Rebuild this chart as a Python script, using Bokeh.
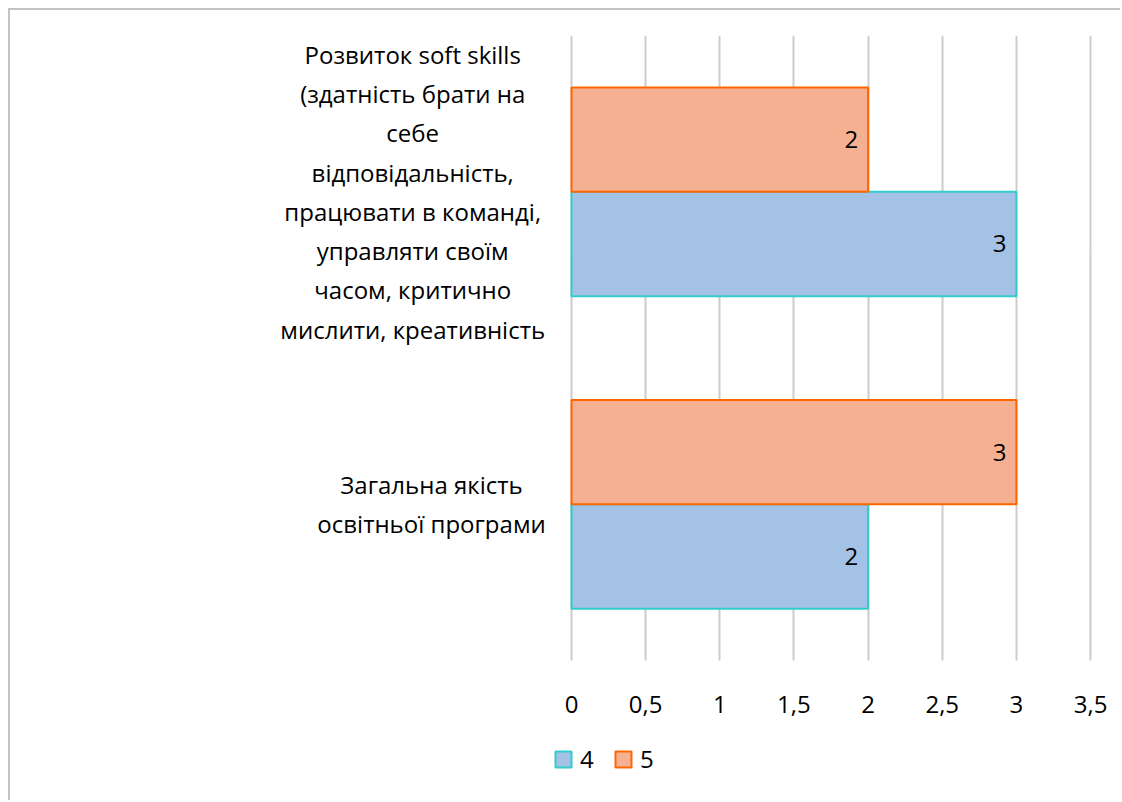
from bokeh.plotting import figure
from bokeh.models import (ColumnDataSource, Range1d, CustomJSTickFormatter,
                          Legend, LegendItem)
from bokeh.transform import dodge
from bokeh.core.properties import value
from bokeh.embed import file_html
from bokeh.resources import INLINE

# ---------------- data ----------------
categories = [
    "Загальна якість освітньої програми",
    "Розвиток soft skills (здатність брати на себе відповідальність, працювати в команді, управляти своїм часом, критично мислити, креативність",
]
category_labels = [
    "Загальна якість\nосвітньої програми",
    "Розвиток soft skills\n(здатність брати на\nсебе\nвідповідальність,\nпрацювати в команді,\nуправляти своїм\nчасом, критично\nмислити, креативність",
]
series_names = ["4", "5"]
values_4 = [2, 3]
values_5 = [3, 2]
x_ticks = [0, 0.5, 1, 1.5, 2, 2.5, 3, 3.5]

# ---------------- layout / style ----------------
FONT = "Open Sans"
FS = "24px"
ORIGIN = 10                      # page offset of the figure (margin + border)
W, H = 1112, 792
BL, BR, BT, BB = 200, 2, 25, 2
PX_PER_UNIT = 148.3              # x: pixels per value unit
PX_PER_CAT = 312.5               # y: pixels per category band
ZERO_PX = 571                    # page x of value 0
frame_w = W - BL - BR
frame_h = H - BT - BB
x_start = -(ZERO_PX - ORIGIN - BL) / PX_PER_UNIT
x_end = x_start + frame_w / PX_PER_UNIT
n_cat = len(categories)
y_top = n_cat - 0.5
y_bottom_cat = -0.5
y_start = y_top - frame_h / PX_PER_CAT

# category labels: block right edge fixed, lines centred within block
LABEL_RIGHT_PX = 544
CHAR_W = 12.55
label_x = []
for lab in category_labels:
    block_w = max(len(s) for s in lab.split("\n")) * CHAR_W
    label_x.append((LABEL_RIGHT_PX - block_w / 2 - ZERO_PX) / PX_PER_UNIT)

BLUE_FILL, BLUE_LINE = "#a4c1e6", "#33cccc"
ORANGE_FILL, ORANGE_LINE = "#f5b092", "#ff6600"
GRID = "#cccccc"

src = ColumnDataSource(dict(
    pos=list(range(n_cat)),
    label=category_labels,
    label_x=label_x,
    v4=values_4,
    v5=values_5,
    t4=[str(v) for v in values_4],
    t5=[str(v) for v in values_5],
))

p = figure(width=W, height=H,
           x_range=Range1d(x_start, x_end),
           y_range=Range1d(y_start, y_top),
           output_backend="svg", toolbar_location=None,
           min_border_left=BL, min_border_right=BR,
           min_border_top=BT, min_border_bottom=BB)
p.styles = {"margin-left": "8px", "margin-top": "8px",
            "border-left": "2px solid #c3c3c3", "border-top": "2px solid #c3c3c3"}
p.outline_line_color = None
p.background_fill_color = "white"
p.border_fill_color = "white"

p.yaxis.visible = False
p.ygrid.visible = False

xa = p.xaxis[0]
xa.fixed_location = y_bottom_cat
xa.ticker = x_ticks
xa.formatter = CustomJSTickFormatter(code="return tick.toString().replace('.', ',');")
xa.axis_line_color = None
xa.major_tick_line_color = None
xa.minor_tick_line_color = None
xa.major_tick_out = 0
xa.major_tick_in = 0
xa.major_label_standoff = 35
xa.major_label_text_font = FONT
xa.major_label_text_font_size = FS
xa.major_label_text_color = "#000000"

xg = p.xgrid[0]
if "cross_bounds" in xg.properties():
    xg.cross_bounds = (y_bottom_cat, y_top)
    xg.grid_line_color = GRID
    xg.grid_line_width = 2
else:
    xg.visible = False
    p.segment(x0=x_ticks, x1=x_ticks, y0=[y_bottom_cat] * len(x_ticks),
              y1=[y_top] * len(x_ticks), line_color=GRID, line_width=2, level="underlay")

BAR_H = 0.334
r4 = p.hbar(y=dodge("pos", -BAR_H / 2), left=0, right="v4", height=BAR_H,
            source=src, fill_color=BLUE_FILL, line_color=BLUE_LINE, line_width=2)
r5 = p.hbar(y=dodge("pos", BAR_H / 2), left=0, right="v5", height=BAR_H,
            source=src, fill_color=ORANGE_FILL, line_color=ORANGE_LINE, line_width=2)

for col, tcol, off in (("v4", "t4", -BAR_H / 2), ("v5", "t5", BAR_H / 2)):
    p.text(x=col, y=dodge("pos", off), text=tcol, source=src,
           text_align="right", text_baseline="middle", x_offset=-10,
           text_font=value(FONT), text_font_size=FS, text_color="#000000")

p.text(x="label_x", y="pos", text="label", source=src,
       text_align="center", text_baseline="middle",
       text_font=value(FONT), text_font_size=FS, text_line_height=1.19,
       text_color="#000000")

legend = Legend(items=[LegendItem(label=series_names[0], renderers=[r4]),
                       LegendItem(label=series_names[1], renderers=[r5])],
                orientation="horizontal", location=(553 - ORIGIN - BL, 25),
                glyph_width=20, glyph_height=20, label_standoff=7, spacing=13,
                padding=0, margin=0, border_line_color=None,
                background_fill_alpha=0, label_text_font=FONT,
                label_text_font_size=FS, label_text_color="#000000",
                label_height=20)
p.add_layout(legend, "center")

open("out.html", "w").write(file_html(p, INLINE))
